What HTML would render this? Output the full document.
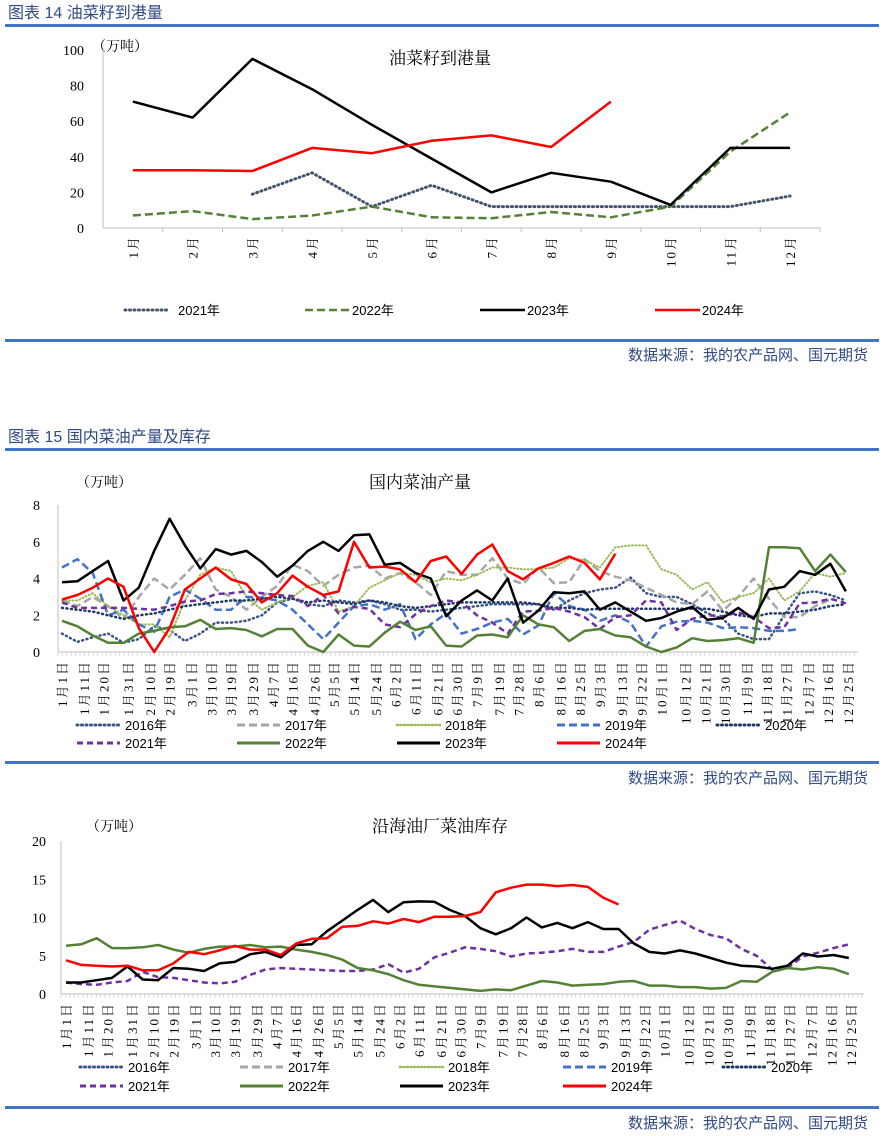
<!DOCTYPE html>
<html><head><meta charset="utf-8">
<style>
html,body{margin:0;padding:0;background:#fff;}
svg{display:block;font-family:"Liberation Sans","Noto Sans CJK SC",sans-serif;}
.hdr{font-size:16px;fill:#2f4a85;}
.src{font-size:15px;fill:#2f4a85;}
.tt{font-family:"Liberation Serif","Noto Serif CJK SC",serif;font-size:17px;fill:#000;}
.tk{font-family:"Liberation Serif","Noto Serif CJK SC",serif;font-size:14px;fill:#000;}
.xl{font-family:"Liberation Serif","Noto Serif CJK SC",serif;font-size:13px;fill:#000;letter-spacing:2px;}
.lg{font-size:13px;fill:#000;}
</style></head>
<body>
<svg id="root" width="884" height="1136" viewBox="0 0 884 1136">
  <text x="8" y="18" class="hdr">图表 14  油菜籽到港量</text>
  <rect x="5" y="24" width="874" height="3" fill="#4472c4"/>
  <rect x="5" y="339" width="874" height="3" fill="#4472c4"/>
  <text x="868" y="360" text-anchor="end" class="src">数据来源：我的农产品网、国元期货</text>

  <text x="8" y="442" class="hdr">图表 15  国内菜油产量及库存</text>
  <rect x="5" y="448" width="874" height="3" fill="#4472c4"/>
  <rect x="5" y="761" width="874" height="3" fill="#4472c4"/>
  <text x="868" y="783" text-anchor="end" class="src">数据来源：我的农产品网、国元期货</text>
  <rect x="5" y="1106" width="874" height="3" fill="#4472c4"/>
  <text x="868" y="1128" text-anchor="end" class="src">数据来源：我的农产品网、国元期货</text>

  <text x="440" y="64" text-anchor="middle" class="tt">油菜籽到港量</text>
  <text x="92" y="51" class="tk">（万吨）</text>
  <text x="420" y="488" text-anchor="middle" class="tt">国内菜油产量</text>
  <text x="76" y="487" class="tk">（万吨）</text>
  <text x="440" y="832" text-anchor="middle" class="tt">沿海油厂菜油库存</text>
  <text x="86" y="831" class="tk">（万吨）</text>
</svg>
<script>
// ---------- Chart 1 data ----------
const c1Months = ['1月','2月','3月','4月','5月','6月','7月','8月','9月','10月','11月','12月'];
const c1Ticks = [0,20,40,60,80,100];
const c1y2021 = [null,null,19,31,12,24,12,12,12,12,12,18];
const c1y2022 = [7,9.5,5,7,12,6,5.5,9,6,12,43,65];
const c1y2023 = [71,62,95,78,58,39,20,31,26,13,45,45];
const c1y2024 = [32.5,32.5,32,45,42,49,52,45.5,71];

// ---------- Chart 2 data (weekly, 万吨) ----------
const c2Ticks = [0,2,4,6,8];
const dateLabels = ['1月1日','1月11日','1月20日','1月31日','2月10日','2月19日','3月1日','3月10日','3月19日','3月29日','4月7日','4月16日','4月26日','5月5日','5月14日','5月24日','6月2日','6月11日','6月21日','6月30日','7月9日','7月19日','7月28日','8月6日','8月16日','8月25日','9月3日','9月13日','9月22日','10月1日','10月12日','10月21日','10月30日','11月9日','11月18日','11月27日','12月7日','12月16日','12月25日'];
const dateDays = [1,11,20,31,41,50,60,69,78,88,97,106,116,125,134,144,153,162,172,181,190,200,209,218,228,237,246,256,265,274,285,294,303,313,322,331,341,350,359];
const p2016 = [1.0,0.55,0.8,1.0,0.5,0.7,1.4,1.2,0.6,1.0,1.6,1.6,1.7,2.0,2.7,2.9,2.6,2.5,2.8,2.7,2.8,2.6,2.3,2.3,2.2,2.3,2.4,2.5,2.6,2.6,2.6,2.6,2.3,2.8,3.2,3.4,3.5,4.05,3.2,3.0,3.0,2.6,2.1,1.8,1.0,0.7,0.7,2.0,3.2,3.3,3.1,2.8];
const p2017 = [2.8,2.5,3.0,2.5,1.8,3.0,4.0,3.4,4.2,5.1,3.4,3.0,2.3,3.0,3.6,4.75,4.4,3.6,4.2,4.6,4.7,4.0,4.3,3.8,3.1,4.4,4.2,4.2,5.1,4.0,3.7,4.6,3.75,3.8,5.05,4.4,4.1,3.9,3.5,3.1,2.7,2.6,3.3,2.25,3.0,4.0,2.9,1.9,1.9,2.5,2.85];
const p2018 = [2.8,2.8,3.2,2.5,2.0,1.5,1.5,0.8,2.8,4.2,4.6,4.4,3.0,2.3,2.7,3.0,3.6,3.8,2.2,2.5,3.5,3.9,4.3,4.2,3.8,4.0,3.9,4.2,4.6,4.6,4.5,4.5,4.6,5.1,5.0,4.6,5.7,5.8,5.8,4.5,4.2,3.4,3.8,2.7,3.0,3.2,4.0,2.8,3.3,4.3,4.1,4.3];
const p2019 = [4.6,5.05,4.3,2.0,2.3,1.5,1.1,3.0,3.4,2.9,2.3,2.3,3.0,2.95,2.8,2.3,1.5,0.7,1.6,2.5,2.6,2.3,2.6,0.7,1.5,2.1,1.0,1.25,1.6,1.8,0.95,1.45,3.2,2.5,2.3,1.7,2.0,1.6,0.3,1.4,1.65,1.7,1.6,1.3,1.35,1.3,1.15,1.15,1.25];
const p2020 = [2.4,2.3,2.2,2.0,1.8,2.0,2.1,2.3,2.5,2.6,2.7,2.8,2.8,2.9,3.0,2.9,2.7,2.8,2.7,2.6,2.8,2.7,2.5,2.4,2.5,2.6,2.7,2.7,2.7,2.7,2.7,2.6,2.4,2.4,2.3,2.35,2.35,2.35,2.35,2.35,2.35,2.35,2.35,2.2,2.0,1.9,2.1,2.1,2.2,2.3,2.5,2.6];
const p2021 = [2.7,2.4,2.4,2.4,2.4,2.35,2.3,2.5,2.75,2.8,3.15,3.2,3.3,3.2,3.1,3.05,2.5,3.1,2.1,2.45,2.35,1.5,1.35,2.05,2.5,2.8,2.7,2.0,1.6,1.0,2.2,2.25,2.4,2.2,1.9,1.25,1.9,2.0,2.8,2.7,1.2,1.8,2.0,1.95,2.15,1.9,1.3,1.35,2.65,2.7,2.9,2.65];
const p2022 = [1.7,1.4,0.9,0.5,0.5,1.0,1.15,1.35,1.4,1.75,1.25,1.3,1.2,0.85,1.25,1.25,0.35,0.0,0.95,0.35,0.3,1.05,1.65,1.2,1.4,0.35,0.3,0.9,0.95,0.8,2.0,1.5,1.35,0.6,1.15,1.25,0.9,0.8,0.3,0.0,0.25,0.75,0.6,0.65,0.75,0.5,5.7,5.7,5.65,4.4,5.3,4.35];
const p2023 = [3.8,3.85,4.4,4.95,2.8,3.5,5.5,7.25,5.8,4.55,5.6,5.3,5.5,4.9,4.1,4.7,5.5,6.0,5.5,6.35,6.4,4.75,4.85,4.3,4.0,1.95,2.8,3.35,2.8,4.0,1.6,2.25,3.25,3.2,3.3,2.3,2.7,2.2,1.7,1.85,2.2,2.45,1.75,1.85,2.4,1.8,3.4,3.55,4.4,4.2,4.8,3.3];
const p2024 = [2.85,3.1,3.5,4.0,3.55,1.3,0.0,1.3,3.4,4.0,4.6,3.95,3.7,2.7,3.2,4.15,3.55,3.1,3.3,6.0,4.6,4.65,4.5,3.8,4.95,5.2,4.25,5.3,5.85,4.4,3.95,4.55,4.85,5.2,4.85,3.95,5.35];

// ---------- Chart 3 data (weekly, 万吨) ----------
const c3Ticks = [0,5,10,15,20];
const s2021 = [1.5,1.3,1.2,1.5,1.7,2.9,2.2,2.1,1.8,1.5,1.4,1.6,2.5,3.2,3.4,3.3,3.2,3.1,3.0,3.0,3.2,3.9,2.8,3.3,4.8,5.4,6.1,5.9,5.6,4.9,5.3,5.4,5.6,5.9,5.5,5.5,6.2,6.8,8.4,9.0,9.6,8.5,7.7,7.3,5.9,5.0,3.2,3.4,4.9,5.4,6.0,6.5];
const s2022 = [6.3,6.5,7.3,6.0,6.0,6.1,6.4,5.8,5.4,5.9,6.2,6.2,6.4,6.1,6.2,5.8,5.5,5.1,4.5,3.4,3.1,2.6,1.8,1.2,1.0,0.8,0.6,0.4,0.6,0.5,1.1,1.7,1.5,1.1,1.2,1.3,1.6,1.7,1.1,1.1,0.9,0.9,0.7,0.8,1.7,1.6,2.9,3.4,3.2,3.5,3.3,2.6];
const s2023 = [1.5,1.5,1.8,2.1,3.6,1.9,1.8,3.4,3.3,3.0,4.0,4.2,5.2,5.5,4.8,6.4,6.5,8.2,9.6,11.0,12.3,10.7,12.0,12.1,12.05,11.0,10.2,8.6,7.8,8.6,10.0,8.7,9.3,8.6,9.4,8.5,8.5,6.6,5.5,5.3,5.7,5.3,4.7,4.1,3.7,3.6,3.3,3.7,5.3,4.9,5.1,4.7];
const s2024 = [4.4,3.8,3.7,3.6,3.7,3.1,3.1,4.0,5.5,5.2,5.7,6.3,5.8,5.8,5.1,6.6,7.2,7.3,8.8,8.9,9.5,9.2,9.8,9.4,10.1,10.1,10.2,10.7,13.3,13.9,14.3,14.3,14.1,14.25,14.0,12.6,11.7];

const NS = 'http://www.w3.org/2000/svg';
const root = document.getElementById('root');
function mk(tag, attrs, parent) {
  const e = document.createElementNS(NS, tag);
  for (const k in attrs) e.setAttribute(k, attrs[k]);
  (parent || root).appendChild(e);
  return e;
}
const STY = {
  '2016': {c:'#3a5487', d:'1 3.5', w:2.5, cap:'round'},
  '2017': {c:'#a6a6a6', d:'8 4', w:2.5},
  '2018': {c:'#9bbb59', d:'1 2.5', w:2, cap:'round'},
  '2019': {c:'#4472c4', d:'8 4', w:2.5},
  '2020': {c:'#1f3864', d:'1 3.5', w:2.5, cap:'round'},
  '2021': {c:'#7030a0', d:'6 4', w:2.5},
  '2022': {c:'#548235', d:null, w:2.5},
  '2023': {c:'#000000', d:null, w:2.5},
  '2024': {c:'#ff0000', d:null, w:2.5}
};
function series(pts, st, name) {
  let d = '', started = false;
  pts.forEach(p => { if (p === null) { started = false; return; } d += (started ? 'L' : 'M') + p[0].toFixed(1) + ',' + p[1].toFixed(1); started = true; });
  const a = {d:d, fill:'none', stroke:st.c, 'stroke-width':st.w, 'stroke-linejoin':'round'};
  if (st.d) a['stroke-dasharray'] = st.d;
  if (st.cap) a['stroke-linecap'] = st.cap;
  const e = mk('path', a);
  
  
  return e;
}
function legendEntry(x, y, year, tx, prefix) {
  const st = STY[year];
  const a = {x1:x, y1:y, x2:x + 43, y2:y, stroke:st.c, 'stroke-width':st.w + 0.5};
  if (st.d) a['stroke-dasharray'] = st.d;
  if (st.cap) a['stroke-linecap'] = st.cap;
  const l = mk('line', a);
  
  
  const t = mk('text', {x:tx, y:y + 5, class:'lg'});
  t.textContent = year + '年';
  
  
}
function yAxis(x0, x1, yFn, ticks, labelX, prefix, top, bottom) {
  const ax = mk('line', {x1:x0, y1:top, x2:x0, y2:bottom, stroke:'#bfbfbf', 'stroke-width':1});
  
  
  ticks.forEach(v => {
    const t = mk('text', {x:labelX, y:yFn(v) + 5, 'text-anchor':'end', class:'tk'});
    t.textContent = v;
    
    
  });
  const xa = mk('line', {x1:x0, y1:bottom, x2:x1, y2:bottom, stroke:'#bfbfbf', 'stroke-width':1});
  
  
}

// ===== Chart 1 =====
(function(){
  const L = 103, R = 820, T = 50, B = 228;
  const y = v => B - v / 100 * (B - T);
  const bw = (R - L) / c1Months.length;
  const x = i => L + bw * (i + 0.5);
  yAxis(L, R, y, c1Ticks, 84, 'chart1', T, B);
  c1Months.forEach((m, i) => {
    const tk = mk('line', {x1:L + bw * (i + 1), y1:B, x2:L + bw * (i + 1), y2:B + 4, stroke:'#bfbfbf'});
    
    
    const t = mk('text', {x:0, y:0, 'text-anchor':'end', class:'xl', transform:'translate(' + (x(i) + 5) + ',' + (B + 7) + ') rotate(-90)'});
    t.textContent = m;
    
    
  });
  const map = arr => arr.map((v, i) => v === null ? null : [x(i), y(v)]);
  const st21 = {c:'#44546a', d:'1 3.5', w:3, cap:'round'};
  const st22 = {c:'#548235', d:'8 4', w:2.5};
  series(map(c1y2021), st21, 'chart1-line-2021');
  series(map(c1y2022), st22, 'chart1-line-2022');
  series(map(c1y2023), STY['2023'], 'chart1-line-2023');
  series(map(c1y2024), STY['2024'], 'chart1-line-2024');
  const leg = [['2021',125,178,st21],['2022',305,352,st22],['2023',480,527,STY['2023']],['2024',655,702,STY['2024']]];
  leg.forEach(g => {
    const st = g[3];
    const a = {x1:g[1], y1:310, x2:g[1] + 45, y2:310, stroke:st.c, 'stroke-width':st.w};
    if (st.d) a['stroke-dasharray'] = st.d;
    if (st.cap) a['stroke-linecap'] = st.cap;
    const l = mk('line', a);
    
    
    const t = mk('text', {x:g[2], y:315, class:'lg'});
    t.textContent = g[0] + '年';
    
    
  });
})();

// ===== Weekly charts =====
function weekly(prefix, L, R, T, B, maxV, ticks, labelX, x0, x1, list, legY1, legY2, legCols) {
  const y = v => B - v / maxV * (B - T);
  const xd = d => x0 + (d - 1) * (x1 - x0) / 358;
  yAxis(L, R, y, ticks, labelX, prefix, T, B);
  for (let xx = L; xx <= R; xx += 4.4) {
    const tk = mk('line', {x1:xx, y1:B, x2:xx, y2:B + 4, stroke:'#d0d0d0', 'stroke-width':0.8});
    
    
  }
  dateLabels.forEach((lab, i) => {
    const t = mk('text', {x:0, y:0, 'text-anchor':'end', class:'xl', transform:'translate(' + (xd(dateDays[i]) + 5) + ',' + (B + 8) + ') rotate(-90)'});
    t.textContent = lab;
    
    
  });
  list.forEach(s => {
    if (!s[1].length) return;
    series(s[1].map((v, k) => [xd(1 + 7 * k), y(v)]), STY[s[0]], prefix + '-line-' + s[0]);
  });
  const years = ['2016','2017','2018','2019','2020','2021','2022','2023','2024'];
  years.forEach((yr, i) => {
    const row = i < 5 ? legY1 : legY2;
    const col = i % 5;
    legendEntry(legCols[col], row, yr, legCols[col] + 48, prefix);
  });
}
weekly('chart2', 58, 858, 505, 652, 8, c2Ticks, 40, 62, 848,
  [['2016',p2016],['2017',p2017],['2018',p2018],['2019',p2019],['2020',p2020],['2021',p2021],['2022',p2022],['2023',p2023],['2024',p2024]],
  725, 743, [77,237,397,557,717]);
weekly('chart3', 61, 864, 841, 994, 20, c3Ticks, 46, 66, 851,
  [['2021',s2021],['2022',s2022],['2023',s2023],['2024',s2024]],
  1067, 1086, [80,240,400,563,723]);
</script>
</body></html>
